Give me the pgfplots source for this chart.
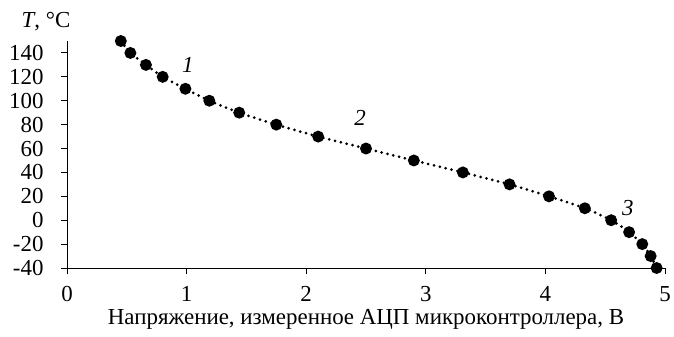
\documentclass[border=0pt]{standalone}
\usepackage{pgfplots}
\pgfplotsset{compat=1.18}
\usepackage{fontspec}
\setmainfont{Liberation Serif}
\newcommand{\fs}{\fontsize{23}{26}\selectfont}
\begin{document}
\begin{tikzpicture}[x=1bp,y=1bp]
\path[use as bounding box] (-67,-68) rectangle (607,268);
\begin{axis}[
  at={(0,0)}, anchor=south west,
  width=598bp, height=227bp, scale only axis,
  xmin=0, xmax=5, ymin=-40, ymax=150,
  axis x line=bottom, axis y line=left,
  axis line style={-, line width=0.9bp},
  xtick={0,1,2,3,4,5},
  ytick={-40,-20,0,20,40,60,80,100,120,140},
  yticklabels={-40,-20,0,20,40,60,80,100,120,140},
  tick align=outside, major tick length=6bp,
  tick style={line width=0.9bp, black},
  /pgf/number format/assume math mode=true,
  ticklabel style={font=\fs},
  xticklabel style={anchor=base, yshift=-27bp, inner sep=0bp},
  yticklabel style={xshift=-14bp},
  xlabel={Напряжение, измеренное АЦП микроконтроллера, В},
  xlabel style={font=\fs, at={(axis description cs:0.5,0)}, anchor=base, yshift=-56bp, inner sep=0bp},
  clip=false,
]
\addplot[black, line width=3bp, line cap=round, dash pattern=on 0bp off 6bp, smooth, tension=0.4,
  mark=*, mark options={solid, fill=black, scale=2.2}] coordinates {
(0.45,150) (0.53,140) (0.66,130) (0.80,120) (0.99,110) (1.19,100) (1.44,90)
(1.75,80) (2.10,70) (2.50,60) (2.90,50) (3.31,40) (3.70,30) (4.03,20)
(4.33,10) (4.55,0) (4.70,-10) (4.81,-20) (4.88,-30) (4.93,-40)
};
\node[font=\fs\itshape] at (axis cs:1.01,130) {1};
\node[font=\fs\itshape] at (axis cs:2.45,86) {2};
\node[font=\fs\itshape] at (axis cs:4.69,10) {3};
\end{axis}
\node[font=\fs, anchor=base] at (-21,241) {\textit{T}, °C};
\end{tikzpicture}
\end{document}
